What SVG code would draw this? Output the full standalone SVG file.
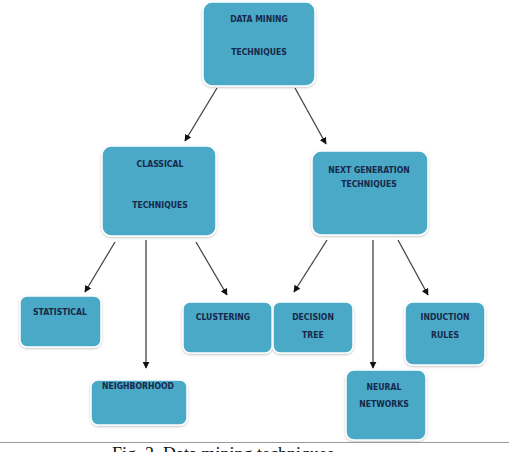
<svg xmlns="http://www.w3.org/2000/svg" width="509" height="452" viewBox="0 0 509 452">
  <defs>
    <filter id="soft" x="-10%" y="-10%" width="120%" height="125%">
      <feDropShadow dx="0" dy="1" stdDeviation="1.2" flood-color="#000" flood-opacity="0.25"/>
    </filter>
    <marker id="arrow" viewBox="0 0 10 10" refX="9" refY="5" markerWidth="7" markerHeight="7" orient="auto" markerUnits="userSpaceOnUse">
      <path d="M0,0 L10,5 L0,10 z" fill="#111"/>
    </marker>
  </defs>
  <style>
    .box { fill: #4aa9c6; stroke: #ffffff; stroke-width: 1.5; filter: url(#soft); }
    .lbl { font-family: "DejaVu Sans Condensed", "Liberation Sans", sans-serif; font-weight: bold; font-size: 8.6px; fill: #18284a; text-anchor: middle; }
    .edge { stroke: #444; stroke-width: 1.3; fill: none; marker-end: url(#arrow); }
    .caption { font-family: "Liberation Serif", serif; font-size: 18px; fill: #111; }
  </style>
  <rect width="509" height="452" fill="#ffffff"/>

  <g id="connectors">
    <line class="edge" x1="217" y1="88" x2="185" y2="141"/>
    <line class="edge" x1="295" y1="88" x2="326" y2="144"/>
    <line class="edge" x1="115" y1="242" x2="85" y2="292"/>
    <line class="edge" x1="146" y1="240" x2="146" y2="368"/>
    <line class="edge" x1="196" y1="242" x2="227" y2="295"/>
    <line class="edge" x1="327" y1="240" x2="294" y2="292"/>
    <line class="edge" x1="373" y1="240" x2="373" y2="368"/>
    <line class="edge" x1="398" y1="240" x2="428" y2="295"/>
  </g>

  <g id="data-mining">
    <rect class="box" x="203" y="2" width="112" height="84" rx="9"/>
    <text class="lbl" x="259" y="22">DATA MINING</text>
    <text class="lbl" x="259" y="55">TECHNIQUES</text>
  </g>
  <g id="classical">
    <rect class="box" x="102" y="146" width="114" height="90" rx="9"/>
    <text class="lbl" x="160" y="167">CLASSICAL</text>
    <text class="lbl" x="160" y="208">TECHNIQUES</text>
  </g>
  <g id="next-generation">
    <rect class="box" x="312" y="151" width="116" height="84" rx="9"/>
    <text class="lbl" x="369" y="173">NEXT GENERATION</text>
    <text class="lbl" x="369" y="187">TECHNIQUES</text>
  </g>
  <g id="statistical">
    <rect class="box" x="20" y="296" width="81" height="51" rx="7"/>
    <text class="lbl" x="60" y="315">STATISTICAL</text>
  </g>
  <g id="clustering">
    <rect class="box" x="183" y="302" width="89" height="51" rx="7"/>
    <text class="lbl" x="223" y="320">CLUSTERING</text>
  </g>
  <g id="neighborhood">
    <rect class="box" x="91" y="380" width="96" height="45" rx="7"/>
    <text class="lbl" x="138" y="389">NEIGHBORHOOD</text>
  </g>
  <g id="decision-tree">
    <rect class="box" x="273" y="302" width="80" height="51" rx="7"/>
    <text class="lbl" x="313" y="320">DECISION</text>
    <text class="lbl" x="313" y="338">TREE</text>
  </g>
  <g id="neural-networks">
    <rect class="box" x="346" y="370" width="80" height="70" rx="8"/>
    <text class="lbl" x="384" y="390">NEURAL</text>
    <text class="lbl" x="384" y="407">NETWORKS</text>
  </g>
  <g id="induction-rules">
    <rect class="box" x="405" y="302" width="80" height="63" rx="8"/>
    <text class="lbl" x="445" y="320">INDUCTION</text>
    <text class="lbl" x="445" y="338">RULES</text>
  </g>

  <line x1="0" y1="442.5" x2="509" y2="442.5" stroke="#9a9a9a" stroke-width="1"/>
  <text class="caption" x="112" y="460">Fig. 2. Data mining techniques</text>
</svg>
